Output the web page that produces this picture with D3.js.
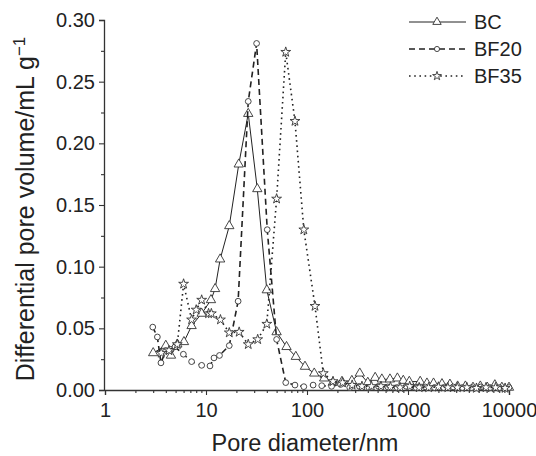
<!DOCTYPE html>
<html>
<head>
<meta charset="utf-8">
<script src="https://cdn.jsdelivr.net/npm/d3@7"></script>
<style>
  body { margin: 0; background: #fff; }
  svg text { font-family: "Liberation Sans", Arial, sans-serif; fill: #222; }
</style>
</head>
<body>
<div id="chart"></div>
<script>
// pore diameter (nm) and differential pore volume (mL/g)
const bcDiam = [3.0, 4.0, 4.5, 5.2, 6.05, 7.2, 9.06, 11.2, 12.3, 13.8, 17.0, 21.1, 26.2, 32.2, 40.0, 50.0, 62.7, 77.5, 95.5, 118, 148, 180, 222, 278, 333, 400, 473, 551, 663, 785, 898, 1030, 1320, 1540, 1790, 2170, 2600, 3100, 3700, 4400, 5200, 6100, 7240, 8500, 10000];
const bcVol  = [0.030, 0.036, 0.028, 0.037, 0.039, 0.052, 0.062, 0.073, 0.082, 0.106, 0.133, 0.183, 0.224, 0.163, 0.081, 0.047, 0.035, 0.027, 0.019, 0.0135, 0.0095, 0.006, 0.0068, 0.0075, 0.0135, 0.006, 0.010, 0.0087, 0.0087, 0.0095, 0.0076, 0.0068, 0.0068, 0.0054, 0.0054, 0.0049, 0.0045, 0.003, 0.003, 0.002, 0.003, 0.002, 0.004, 0.002, 0.002];

const bf20Diam = [2.97, 3.3, 3.58, 4.0, 4.48, 4.93, 5.97, 7.2, 9.06, 10.95, 12.0, 13.6, 17.0, 20.8, 26.2, 31.7, 40.4, 50.0, 61.6, 76.0, 93.0, 115, 140, 175, 215, 265, 330, 410, 510, 630, 780, 960, 1200, 1480, 1830, 2260, 2800, 3450, 4270, 5270, 6500, 8050, 10000];
const bf20Vol  = [0.051, 0.043, 0.022, 0.032, 0.033, 0.035, 0.029, 0.023, 0.020, 0.0195, 0.026, 0.028, 0.036, 0.072, 0.234, 0.281, 0.130, 0.041, 0.006, 0.004, 0.0027, 0.004, 0.0035, 0.003, 0.0045, 0.002, 0.003, 0.002, 0.003, 0.0025, 0.002, 0.003, 0.002, 0.0025, 0.002, 0.002, 0.0025, 0.002, 0.002, 0.0025, 0.002, 0.002, 0.002];

const bf35Diam = [3.6, 4.3, 5.2, 6.0, 7.2, 8.0, 9.06, 10.6, 11.3, 13.9, 17.0, 21.3, 26.2, 32.5, 40.0, 50.0, 61.6, 76.0, 93.0, 120, 145, 181, 225, 280, 350, 435, 540, 670, 835, 1040, 1290, 1600, 2000, 2480, 3080, 3830, 4760, 5920, 7360, 9150];
const bf35Vol  = [0.030, 0.032, 0.037, 0.086, 0.057, 0.065, 0.073, 0.062, 0.062, 0.057, 0.0465, 0.047, 0.037, 0.041, 0.0535, 0.155, 0.274, 0.218, 0.130, 0.068, 0.0135, 0.007, 0.006, 0.004, 0.003, 0.003, 0.003, 0.0025, 0.002, 0.003, 0.002, 0.002, 0.0025, 0.002, 0.002, 0.002, 0.0015, 0.002, 0.002, 0.0015];

const seriesNames = ["BC", "BF20", "BF35"];
const xTicks = [1, 10, 100, 1000, 10000];
const yTicks = [0.00, 0.05, 0.10, 0.15, 0.20, 0.25, 0.30];

const width = 536;
const height = 456;

const x = d3.scaleLog().domain([1, 10000]).range([105, 509]);
const y = d3.scaleLinear().domain([0, 0.30]).range([390, 20]);

const svg = d3.select("#chart")
	.append("svg")
		.attr("width", width)
		.attr("height", height);

const series = [
	{ name: seriesNames[0], diam: bcDiam, vol: bcVol, dash: null, symbol: d3.symbolTriangle, size: 38 },
	{ name: seriesNames[1], diam: bf20Diam, vol: bf20Vol, dash: "6,4", symbol: d3.symbolCircle, size: 26 },
	{ name: seriesNames[2], diam: bf35Diam, vol: bf35Vol, dash: "1.6,3.6", symbol: d3.symbolStar, size: 30 }
];

// axes
const xAxis = svg.append("g")
	.attr("transform", `translate(0, ${y(0)})`)
	.call(d3.axisBottom(x).tickValues(xTicks).tickFormat(d3.format("d")).tickSize(5).tickPadding(5));

const minorX = [];
for (let dec = 1; dec < 10000; dec *= 10) {
	for (let k = 2; k <= 9; k++) minorX.push(dec * k);
}
svg.append("g")
	.attr("transform", `translate(0, ${y(0)})`)
	.call(d3.axisBottom(x).tickValues(minorX).tickFormat("").tickSize(3))
	.call((g) => g.select(".domain").remove());

const yAxis = svg.append("g")
	.attr("transform", `translate(${x(1) - 1}, 0)`)
	.call(d3.axisLeft(y).tickValues(yTicks).tickFormat(d3.format(".2f")).tickSize(5).tickPadding(4));

svg.append("g")
	.attr("transform", `translate(${x(1) - 1}, 0)`)
	.call(d3.axisLeft(y).tickValues([0.025, 0.075, 0.125, 0.175, 0.225, 0.275]).tickFormat("").tickSize(3))
	.call((g) => g.select(".domain").remove());

svg.selectAll(".domain").attr("stroke", "#333").attr("stroke-width", 1.3);
svg.selectAll(".tick line").attr("stroke", "#333").attr("stroke-width", 1.1);
svg.selectAll(".tick text").style("font-size", "20px").attr("fill", "#222");
xAxis.selectAll("text").attr("dy", "0.85em");

// axis titles
svg.append("text")
	.attr("x", 305)
	.attr("y", 451)
	.attr("text-anchor", "middle")
	.style("font-size", "23.5px")
	.text("Pore diameter/nm");

const yTitle = svg.append("text")
	.attr("transform", `translate(34, 209) rotate(-90)`)
	.attr("text-anchor", "middle")
	.style("font-size", "25px");
yTitle.append("tspan").text("Differential pore volume/mL g");
yTitle.append("tspan").attr("dy", -9).style("font-size", "17px").text("\u22121");

// lines and markers
const line = d3.line()
	.x((d) => x(d[0]))
	.y((d) => y(d[1]));

const plot = svg.append("g").attr("class", "plot");

series.forEach((s) => {
	const pts = s.diam.map((d, i) => [d, s.vol[i]]);
	plot.append("path")
		.datum(pts)
		.attr("d", line)
		.attr("fill", "none")
		.attr("stroke", "#222")
		.attr("stroke-width", s.dash ? 1.6 : 1)
		.attr("stroke-dasharray", s.dash);

	plot.selectAll(null)
		.data(pts)
		.enter()
		.append("path")
			.attr("transform", (d) => `translate(${x(d[0])}, ${y(d[1])})`)
			.attr("d", d3.symbol().type(s.symbol).size(s.size))
			.attr("fill", "#fff")
			.attr("stroke", "#333")
			.attr("stroke-width", 0.9);
});

// legend
const legend = svg.append("g").attr("class", "legend");
series.forEach((s, i) => {
	const ly = 22 + i * 27;
	const row = legend.append("g").attr("transform", `translate(0, ${ly})`);
	row.append("line")
		.attr("x1", 409).attr("x2", 466)
		.attr("stroke", "#222")
		.attr("stroke-width", s.dash ? 1.6 : 1)
		.attr("stroke-dasharray", s.dash);
	row.append("path")
		.attr("transform", "translate(437, 0)")
		.attr("d", d3.symbol().type(s.symbol).size(s.size * 0.8))
		.attr("fill", "#fff")
		.attr("stroke", "#333")
		.attr("stroke-width", 0.9);
	row.append("text")
		.attr("x", 474)
		.attr("dy", "0.36em")
		.style("font-size", "20px")
		.text(s.name);
});
</script>
</body>
</html>
